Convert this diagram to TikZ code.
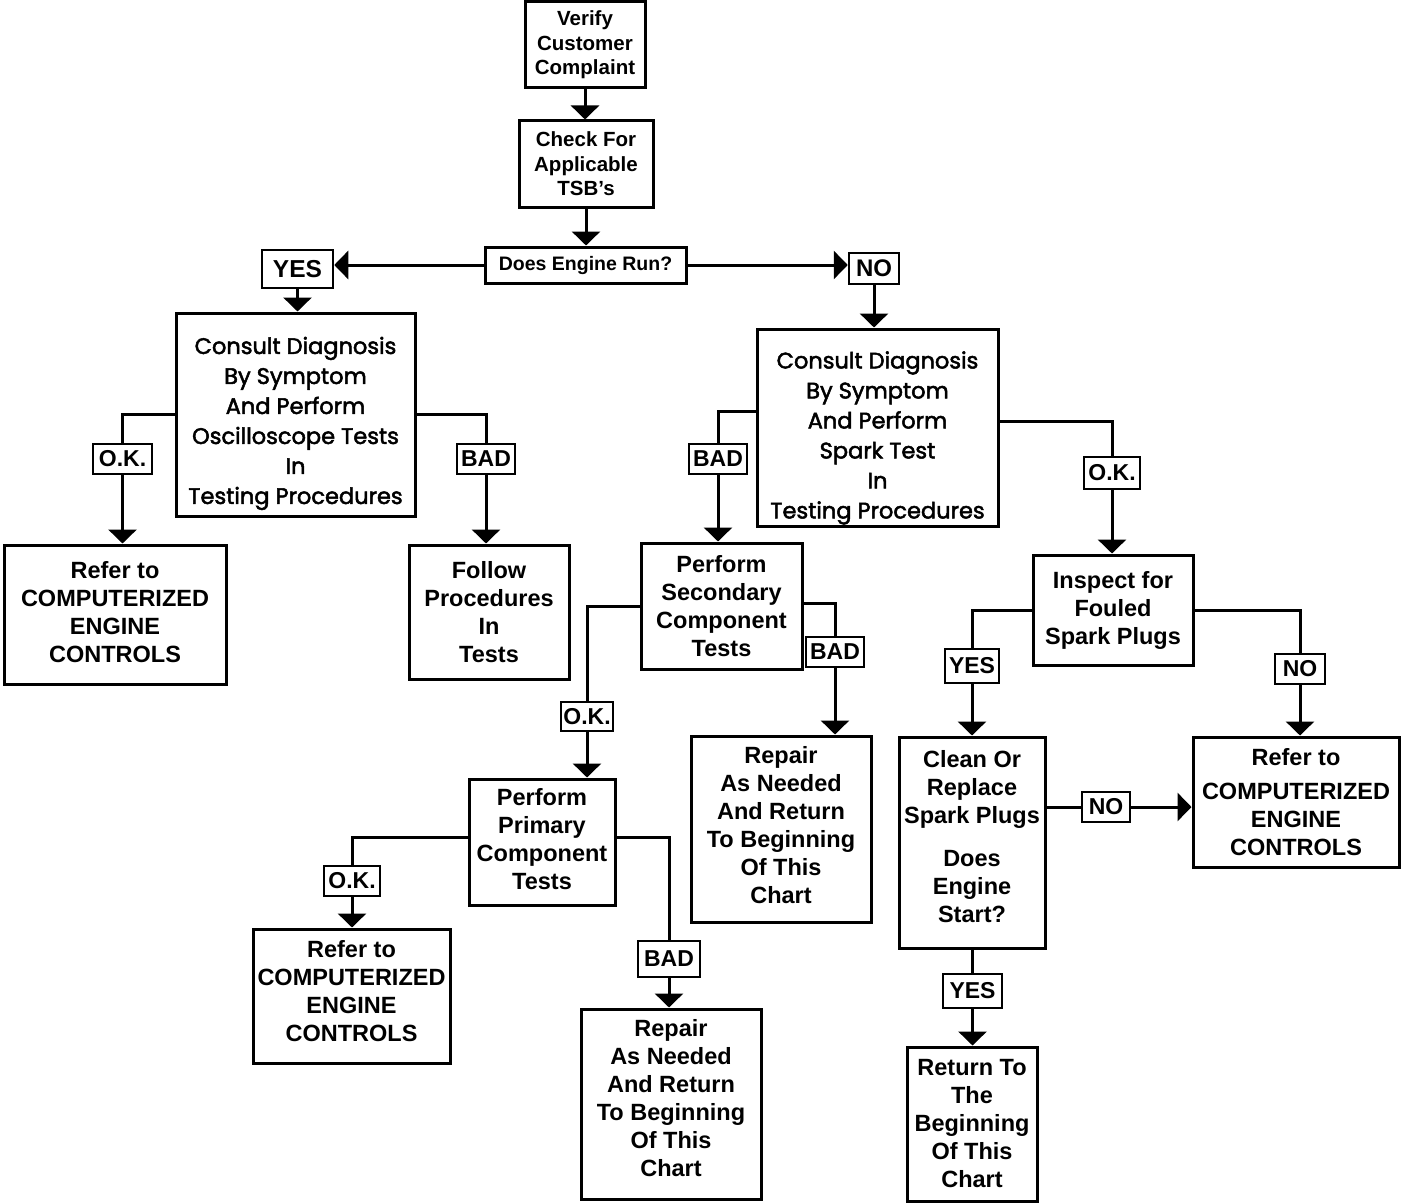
\documentclass[tikz,border=0pt]{standalone}
\usepackage{fontspec}
\setmainfont{Liberation Sans}
\newfontfamily\gothic{Poppins}[FakeBold=2.2]
\usetikzlibrary{arrows.meta}
\newcommand\lowerby[1]{\rule{0pt}{#1}}
\newcommand\raiseby[1]{\rule[-#1]{0pt}{0pt}}
\begin{document}
\begin{tikzpicture}[x=1pt,y=-1pt,
 box/.style={draw,line width=3pt,inner sep=0pt,align=center,font=\bfseries\fontsize{23.5}{28}\selectfont},
 sbox/.style={box,font=\bfseries\fontsize{20.5}{24.5}\selectfont},
 gbox/.style={box,font=\gothic\fontsize{22.5}{30}\selectfont},
 lab/.style={draw,line width=2.5pt,inner sep=0pt,align=center,font=\bfseries\fontsize{23}{24}\selectfont},
 conn/.style={line width=3pt},
 arr/.style={conn,-{Triangle[width=28pt,length=14pt]}}]
\useasboundingbox (0,0) rectangle (1408,1204);
% boxes
\node[sbox,minimum width=120pt,minimum height=86pt] (verify) at (585,45) {Verify\\Customer\\Complaint};
\node[sbox,minimum width=134pt,minimum height=86pt] (check) at (586,164) {Check For\\Applicable\\TSB's};
\node[sbox,minimum width=201pt,minimum height=36pt,font=\bfseries\fontsize{19.5}{22}\selectfont] (dec) at (585.5,265) {Does Engine Run?};
\node[lab,minimum width=71pt,minimum height=38pt,font=\bfseries\fontsize{24.5}{24}\selectfont] (yes1) at (297.5,269) {YES};
\node[lab,minimum width=50pt,minimum height=31pt,font=\bfseries\fontsize{24}{24}\selectfont] (no1) at (874,268.5) {NO};
\node[gbox,minimum width=239pt,minimum height=203pt] (consL) at (295.5,414.5) {\lowerby{35pt}Consult Diagnosis\\By Symptom\\And Perform\\Oscilloscope Tests\\In\\Testing Procedures};
\node[gbox,minimum width=241pt,minimum height=197pt] (consR) at (877.5,427.5) {\lowerby{38pt}Consult Diagnosis\\By Symptom\\And Perform\\Spark Test\\In\\Testing Procedures};
\node[lab,minimum width=59pt,minimum height=30pt] (ok1) at (122.5,459) {O.K.};
\node[box,minimum width=222pt,minimum height=139pt] (refer1) at (115,614.5) {Refer to\\COMPUTERIZED\\ENGINE\\CONTROLS\raiseby{6pt}};
\node[lab,minimum width=58pt,minimum height=30pt] (bad1) at (486,459) {BAD};
\node[box,minimum width=160pt,minimum height=134pt] (follow) at (489,612) {Follow\\Procedures\\In\\Tests};
\node[lab,minimum width=58pt,minimum height=30pt] (bad2) at (718,459) {BAD};
\node[box,minimum width=161pt,minimum height=126pt] (second) at (721.5,606) {Perform\\Secondary\\Component\\Tests};
\node[lab,minimum width=56pt,minimum height=32pt] (ok2) at (1112,473) {O.K.};
\node[box,minimum width=160pt,minimum height=110pt] (inspect) at (1113,610) {Inspect for\\Fouled\\Spark Plugs};
\node[lab,minimum width=52pt,minimum height=29pt] (ok3) at (587,716.5) {O.K.};
\node[box,minimum width=146pt,minimum height=126pt] (primary) at (542,842) {Perform\\Primary\\Component\\Tests\raiseby{6pt}};
\node[lab,minimum width=58pt,minimum height=30pt] (bad3) at (835,652) {BAD};
\node[box,minimum width=180pt,minimum height=186pt] (repair1) at (781,829) {Repair\\As Needed\\And Return\\To Beginning\\Of This\\Chart\raiseby{8pt}};
\node[lab,minimum width=56pt,minimum height=30pt] (ok4) at (352,881) {O.K.};
\node[box,minimum width=197pt,minimum height=134pt] (refer2) at (351.5,996) {Refer to\\COMPUTERIZED\\ENGINE\\CONTROLS\raiseby{10pt}};
\node[lab,minimum width=62pt,minimum height=36pt] (bad4) at (669,959) {BAD};
\node[box,minimum width=180pt,minimum height=190pt] (repair2) at (671,1104) {Repair\\As Needed\\And Return\\To Beginning\\Of This\\Chart\raiseby{12pt}};
\node[lab,minimum width=54pt,minimum height=34pt] (yes2) at (972,666) {YES};
\node[lab,minimum width=50pt,minimum height=30pt] (no2) at (1300,669) {NO};
\node[box,minimum width=146pt,minimum height=211pt] (clean) at (972,842.5) {Clean Or\\Replace\\Spark Plugs\\[15pt]Does\\Engine\\Start?\raiseby{12pt}};
\node[box,minimum width=206pt,minimum height=130pt] (refer3) at (1296,802) {Refer to\\[6pt]COMPUTERIZED\\ENGINE\\CONTROLS};
\node[lab,minimum width=48pt,minimum height=30pt] (no3) at (1106,807) {NO};
\node[lab,minimum width=59pt,minimum height=34pt] (yes3) at (972.5,991) {YES};
\node[box,minimum width=130pt,minimum height=154pt] (ret) at (972,1124) {Return To\\The\\Beginning\\Of This\\Chart};
% connectors
\draw[arr] (verify.south) -- (verify.south |- check.north);
\draw[arr] (check.south) -- (check.south |- dec.north);
\draw[arr] (dec.west) -- (dec.west -| yes1.east);
\draw[arr] (dec.east) -- (dec.east -| no1.west);
\draw[arr] (yes1.south) -- (yes1.south |- consL.north);
\draw[arr] (no1.south) -- (no1.south |- consR.north);
\draw[conn] (consL.west) -| (ok1.north);
\draw[arr] (ok1.south) -- (ok1.south |- refer1.north);
\draw[conn] (consL.east) -| (bad1.north);
\draw[arr] (bad1.south) -- (bad1.south |- follow.north);
\draw[conn] ([yshift=16pt]consR.west) -| (bad2.north);
\draw[arr] (bad2.south) -- (bad2.south |- second.north);
\draw[conn] ([yshift=6pt]consR.east) -| (ok2.north);
\draw[arr] (ok2.south) -- (ok2.south |- inspect.north);
\draw[conn] (second.west) -| (ok3.north);
\draw[arr] (ok3.south) -- (ok3.south |- primary.north);
\draw[conn] ([yshift=3pt]second.east) -| (bad3.north);
\draw[arr] (bad3.south) -- (bad3.south |- repair1.north);
\draw[conn] ([yshift=5pt]primary.west) -| (ok4.north);
\draw[arr] (ok4.south) -- (ok4.south |- refer2.north);
\draw[conn] ([yshift=5pt]primary.east) -| (bad4.north);
\draw[arr] (bad4.south) -- (bad4.south |- repair2.north);
\draw[conn] (inspect.west) -| (yes2.north);
\draw[arr] (yes2.south) -- (yes2.south |- clean.north);
\draw[conn] (inspect.east) -| (no2.north);
\draw[arr] (no2.south) -- (no2.south |- refer3.north);
\draw[conn] (clean.east |- no3.west) -- (no3.west);
\draw[arr] (no3.east) -- (no3.east -| refer3.west);
\draw[conn] (clean.south) -- (clean.south |- yes3.north);
\draw[arr] (yes3.south) -- (yes3.south |- ret.north);
\end{tikzpicture}
\end{document}
